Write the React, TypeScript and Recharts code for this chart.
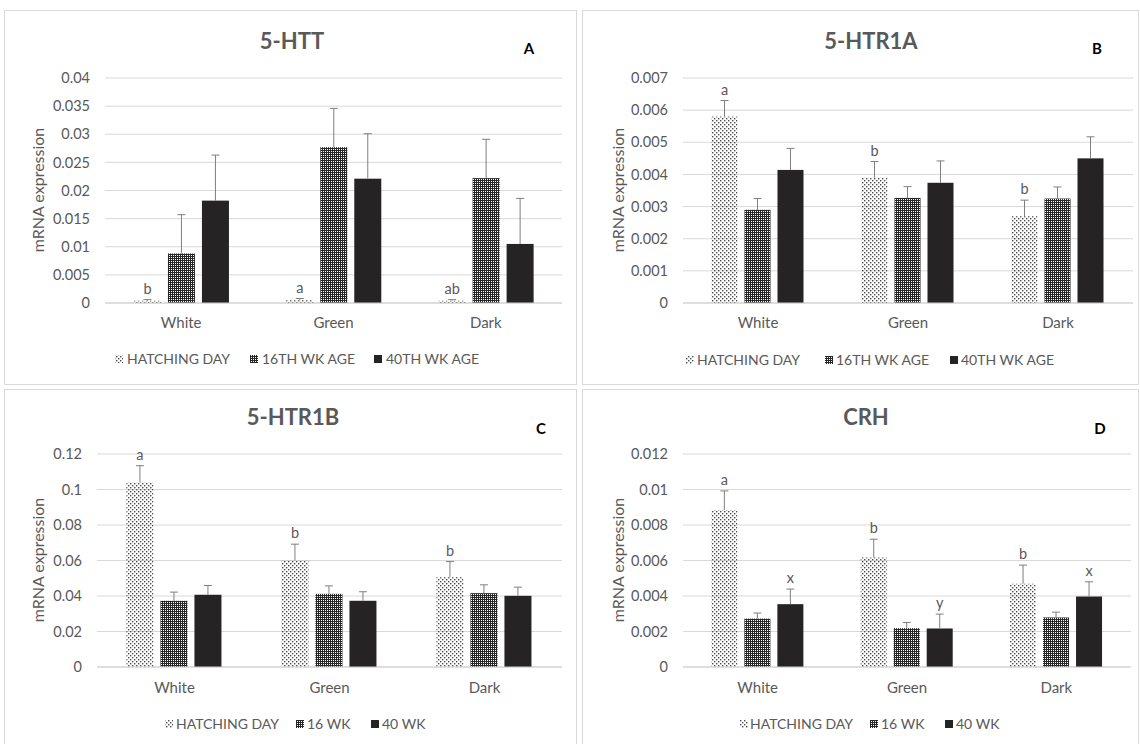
import React from 'react';
import { BarChart, Bar, XAxis, YAxis, CartesianGrid } from 'recharts';

// ---------- data ----------
const categories = ['White', 'Green', 'Dark'];

// Panel A: 5-HTT
const httHatch = [0.0004, 0.0005, 0.0004];
const httHatchErr = [0.0002, 0.0003, 0.0002];
const htt16 = [0.0088, 0.0277, 0.0222];
const htt16Err = [0.0069, 0.0069, 0.0069];
const htt40 = [0.0182, 0.0221, 0.0105];
const htt40Err = [0.0081, 0.008, 0.0081];
const httLetters = ['b', 'a', 'ab'];
const httTicks = [0, 0.005, 0.01, 0.015, 0.02, 0.025, 0.03, 0.035, 0.04];

// Panel B: 5-HTR1A
const r1aHatch = [0.0058, 0.0039, 0.0027];
const r1aHatchErr = [0.0005, 0.0005, 0.0005];
const r1a16 = [0.0029, 0.00327, 0.00325];
const r1a16Err = [0.00035, 0.00035, 0.00036];
const r1a40 = [0.00414, 0.00374, 0.0045];
const r1a40Err = [0.00067, 0.00068, 0.00067];
const r1aLetters = ['a', 'b', 'b'];
const r1aTicks = [0, 0.001, 0.002, 0.003, 0.004, 0.005, 0.006, 0.007];

// Panel C: 5-HTR1B
const r1bHatch = [0.104, 0.06, 0.0506];
const r1bHatchErr = [0.0094, 0.0092, 0.0088];
const r1b16 = [0.0373, 0.0412, 0.0416];
const r1b16Err = [0.0049, 0.0045, 0.0047];
const r1b40 = [0.0407, 0.0373, 0.0401];
const r1b40Err = [0.0052, 0.0051, 0.0049];
const r1bLetters = ['a', 'b', 'b'];
const r1bTicks = [0, 0.02, 0.04, 0.06, 0.08, 0.1, 0.12];

// Panel D: CRH
const crhHatch = [0.00885, 0.00617, 0.00469];
const crhHatchErr = [0.00107, 0.00103, 0.00105];
const crh16 = [0.00273, 0.00219, 0.00279];
const crh16Err = [0.00031, 0.00032, 0.0003];
const crh40 = [0.00354, 0.00217, 0.00397];
const crh40Err = [0.00085, 0.00081, 0.00083];
const crhLetters = ['a', 'b', 'b'];
const crh40Letters = ['x', 'y', 'x'];
const crhTicks = [0, 0.002, 0.004, 0.006, 0.008, 0.01, 0.012];

const legendLong = ['HATCHING DAY', '16TH WK AGE', '40TH WK AGE'];
const legendShort = ['HATCHING DAY', '16 WK', '40 WK'];

// ---------- styles ----------
const FONT = "Lato, 'Noto Sans', sans-serif";
const GRAY = '#595959';
const GRID = '#d9d9d9';
const ERR = '#7f7f7f';
const DARK = '#252323';
const FILLS = ['url(#patHatch)', 'url(#pat16)', DARK];

function buildRows(h: number[], he: number[], a: number[], ae: number[], b: number[], be: number[], hl: string[], bl?: string[]) {
  return categories.map((name, i) => ({
    name,
    hatch: h[i], hatchErr: he[i], hatchLetter: hl[i],
    wk16: a[i], wk16Err: ae[i], wk16Letter: '',
    wk40: b[i], wk40Err: be[i], wk40Letter: bl ? bl[i] : '',
  }));
}

function makeShape(fill: string, key: string) {
  return (p: any) => {
    const { x, y, width, height, payload } = p;
    const v = payload[key];
    const e = payload[key + 'Err'];
    const letter = payload[key + 'Letter'];
    const ppu = v > 0 ? height / v : 0;
    const top = y - e * ppu;
    const cx = x + width / 2;
    return (
      <g>
        <rect x={x} y={y} width={width} height={height} fill={fill} />
        <line x1={cx} x2={cx} y1={y} y2={top} stroke={ERR} strokeWidth={1} />
        <line x1={cx - 4} x2={cx + 4} y1={top} y2={top} stroke={ERR} strokeWidth={1} />
        {letter ? (
          <text x={cx} y={top - 6} textAnchor="middle" fill={GRAY} fontSize={14.5} fontFamily={FONT}>
            {letter}
          </text>
        ) : null}
      </g>
    );
  };
}

type Panel = {
  title: string; tag: string; rows: any[]; ticks: number[]; legend: string[];
  left: number; top: number; width: number; height: number;
  margin: { top: number; right: number; bottom: number; left: number };
  yAxisWidth: number; xTickMargin: number;
  titleX: number; titleY: number; tagX: number; tagY: number;
  yLabelX: number; yLabelY: number;
  legendY: number; legendSym: number[]; legendText: number[];
};

const panels: Panel[] = [
  {
    title: '5-HTT', tag: 'A',
    rows: buildRows(httHatch, httHatchErr, htt16, htt16Err, htt40, htt40Err, httLetters),
    ticks: httTicks, legend: legendLong,
    left: 4, top: 10, width: 573, height: 374,
    margin: { top: 68, right: 15, bottom: 51, left: 41 }, yAxisWidth: 60, xTickMargin: 14,
    titleX: 292, titleY: 49, tagX: 529, tagY: 54,
    yLabelX: 37, yLabelY: 190,
    legendY: 359, legendSym: [115, 250, 374], legendText: [127, 262, 386],
  },
  {
    title: '5-HTR1A', tag: 'B',
    rows: buildRows(r1aHatch, r1aHatchErr, r1a16, r1a16Err, r1a40, r1a40Err, r1aLetters),
    ticks: r1aTicks, legend: legendLong,
    left: 582, top: 10, width: 556, height: 374,
    margin: { top: 68, right: 5, bottom: 51, left: 41 }, yAxisWidth: 60, xTickMargin: 14,
    titleX: 871, titleY: 49, tagX: 1097, tagY: 54,
    yLabelX: 617, yLabelY: 190,
    legendY: 360, legendSym: [686, 825, 950], legendText: [697, 836, 961],
  },
  {
    title: '5-HTR1B', tag: 'C',
    rows: buildRows(r1bHatch, r1bHatchErr, r1b16, r1b16Err, r1b40, r1b40Err, r1bLetters),
    ticks: r1bTicks, legend: legendShort,
    left: 4, top: 389, width: 573, height: 355,
    margin: { top: 65, right: 15, bottom: 47, left: 41 }, yAxisWidth: 52, xTickMargin: 15,
    titleX: 293, titleY: 425, tagX: 541, tagY: 434,
    yLabelX: 37, yLabelY: 560,
    legendY: 724, legendSym: [165, 296, 371], legendText: [176, 307, 382],
  },
  {
    title: 'CRH', tag: 'D',
    rows: buildRows(crhHatch, crhHatchErr, crh16, crh16Err, crh40, crh40Err, crhLetters, crh40Letters),
    ticks: crhTicks, legend: legendShort,
    left: 582, top: 389, width: 556, height: 355,
    margin: { top: 65, right: 7, bottom: 47, left: 41 }, yAxisWidth: 60, xTickMargin: 15,
    titleX: 866, titleY: 425, tagX: 1100, tagY: 434,
    yLabelX: 617, yLabelY: 560,
    legendY: 724, legendSym: [740, 870, 945], legendText: [750, 881, 956],
  },
];

function ChartPanel({ p }: { p: Panel }) {
  const max = p.ticks[p.ticks.length - 1];
  return (
    <div style={{ position: 'absolute', left: p.left, top: p.top }}>
      <BarChart width={p.width} height={p.height} data={p.rows} margin={p.margin} barCategoryGap="19%" barGap={7}>
        <CartesianGrid vertical={false} stroke={GRID} />
        <XAxis
          dataKey="name" interval={0} tickLine={false} tickSize={0} tickMargin={p.xTickMargin}
          axisLine={{ stroke: '#cfcfcf' }}
          tick={{ fill: GRAY, fontSize: 15, fontFamily: FONT }}
        />
        <YAxis
          type="number" domain={[0, max]} ticks={p.ticks} interval={0} width={p.yAxisWidth}
          axisLine={false} tickLine={false} tickSize={0} tickMargin={15}
          tick={{ fill: GRAY, fontSize: 14.5, fontFamily: FONT }}
          tickFormatter={(v: number) => String(v)}
        />
        <Bar dataKey="hatch" isAnimationActive={false} shape={makeShape(FILLS[0], 'hatch')} />
        <Bar dataKey="wk16" isAnimationActive={false} shape={makeShape(FILLS[1], 'wk16')} />
        <Bar dataKey="wk40" isAnimationActive={false} shape={makeShape(FILLS[2], 'wk40')} />
      </BarChart>
    </div>
  );
}

export default function App() {
  return (
    <div style={{ position: 'absolute', left: 0, top: 0, width: 1140, height: 744, background: '#fff', overflow: 'hidden' }}>
      <svg width={1140} height={744} style={{ position: 'absolute', left: 0, top: 0 }}>
        <defs>
          <pattern id="patHatch" width="4" height="4" patternUnits="userSpaceOnUse">
            <rect x="0" y="0" width="1.4" height="1.4" fill="#4a4a4a" />
            <rect x="2" y="2" width="1.4" height="1.4" fill="#4a4a4a" />
          </pattern>
          <pattern id="pat16" width="2" height="2" patternUnits="userSpaceOnUse">
            <rect x="0" y="0" width="2" height="1" fill="#262626" />
            <rect x="0" y="1" width="1" height="1" fill="#262626" />
          </pattern>
        </defs>
        <rect x={4.5} y={10.5} width={572} height={374} fill="none" stroke={GRID} />
        <rect x={582.5} y={10.5} width={556} height={374} fill="none" stroke={GRID} />
        <rect x={4.5} y={389.5} width={572} height={370} fill="none" stroke={GRID} />
        <rect x={582.5} y={389.5} width={556} height={370} fill="none" stroke={GRID} />
      </svg>
      {panels.map((p) => <ChartPanel key={p.tag} p={p} />)}
      <svg width={1140} height={744} style={{ position: 'absolute', left: 0, top: 0, pointerEvents: 'none' }}>
        {panels.map((p) => (
          <g key={p.tag} fontFamily={FONT}>
            <text x={p.titleX} y={p.titleY} textAnchor="middle" fontSize={22} fontWeight="bold" fill={GRAY}>{p.title}</text>
            <text x={p.tagX} y={p.tagY} textAnchor="middle" fontSize={15} fontWeight="bold" fill="#000">{p.tag}</text>
            <text
              transform={`translate(${p.yLabelX},${p.yLabelY}) rotate(-90)`}
              textAnchor="middle" dominantBaseline="central" fontSize={16} fill={GRAY}
            >mRNA expression</text>
            {p.legend.map((lab, i) => (
              <g key={lab}>
                <rect x={p.legendSym[i]} y={p.legendY - 4} width={8} height={8} fill={FILLS[i]} />
                <text x={p.legendText[i]} y={p.legendY + 5} fontSize={14} fill={GRAY}>{lab}</text>
              </g>
            ))}
          </g>
        ))}
      </svg>
    </div>
  );
}
